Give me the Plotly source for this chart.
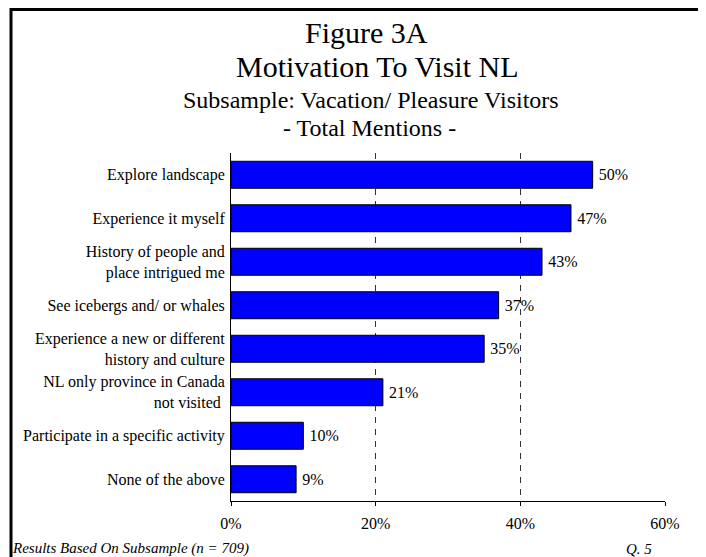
import plotly.graph_objects as go

categories = [
    "Explore landscape",
    "Experience it myself",
    "History of people and<br>place intrigued me",
    "See icebergs and/ or whales",
    "Experience a new or different<br>history and culture",
    "NL only province in Canada<br>not visited ",
    "Participate in a specific activity",
    "None of the above",
]
values = [50, 47, 43, 37, 35, 21, 10, 9]
x_ticks = [0, 20, 40, 60]
x_tick_labels = ["0%", "20%", "40%", "60%"]

# The page body has an 8px margin, so the figure is sized/offset to fit the window
OFF = 8
W, H = 706 - OFF, 557 - OFF
L, R, T, B = 231 - OFF, 41, 153 - OFF, 56
PW, PH = W - L - R, H - T - B


def px(x):
    return (x - OFF - L) / PW


def py(y):
    return 1 - (y - OFF - T) / PH


FONT = "Liberation Serif, Times New Roman, serif"

fig = go.Figure()
fig.add_trace(go.Bar(
    x=values,
    y=categories,
    orientation="h",
    width=0.62,
    marker=dict(color="#0000FF", line=dict(color="#000000", width=1)),
    text=[f"\u2009{v}%" for v in values],
    textposition="outside",
    textfont=dict(family=FONT, size=16, color="#000000"),
    cliponaxis=False,
))

annotations = [
    dict(text="Figure 3A", x=px(366), y=py(32), size=30),
    dict(text="Motivation To Visit NL", x=px(377), y=py(66), size=30),
    dict(text="Subsample: Vacation/ Pleasure Visitors", x=px(371), y=py(100), size=24),
    dict(text="- Total Mentions -", x=px(369), y=py(127.5), size=24),
]
ann = []
for a in annotations:
    ann.append(dict(text=a["text"], x=a["x"], y=a["y"], xref="paper", yref="paper",
                    xanchor="center", yanchor="middle", showarrow=False,
                    font=dict(family=FONT, size=a["size"], color="#000000")))
ann.append(dict(text="<i>Results Based On Subsample (n = 709)</i>", x=px(10), y=py(559),
                xref="paper", yref="paper", xanchor="left", yanchor="bottom", showarrow=False,
                font=dict(family=FONT, size=15, color="#000000")))
ann.append(dict(text="<i>Q. 5</i>", x=px(624), y=py(559),
                xref="paper", yref="paper", xanchor="left", yanchor="bottom", showarrow=False,
                font=dict(family=FONT, size=15, color="#000000")))

shapes = [
    dict(type="line", xref="paper", yref="paper", x0=px(11), x1=px(11), y0=py(8), y1=py(570),
         line=dict(color="#000000", width=3)),
    dict(type="line", xref="paper", yref="paper", x0=px(10), x1=px(720), y0=py(9.5), y1=py(9.5),
         line=dict(color="#000000", width=3)),
]

fig.update_layout(
    width=W, height=H,
    margin=dict(l=L, r=R, t=T, b=B, pad=0),
    paper_bgcolor="#FFFFFF", plot_bgcolor="#FFFFFF",
    showlegend=False,
    annotations=ann,
    shapes=shapes,
)
fig.update_xaxes(
    range=[0, 60], tickvals=x_ticks, ticktext=x_tick_labels,
    showline=True, linecolor="#000000", linewidth=1,
    ticks="outside", ticklen=4, tickcolor="#000000",
    showgrid=True, gridcolor="#333333", griddash="6px,6px", gridwidth=1,
    zeroline=False,
    tickfont=dict(family=FONT, size=16, color="#000000"),
    ticklabelstandoff=4,
)
fig.update_yaxes(
    autorange="reversed",
    showline=True, linecolor="#000000", linewidth=1,
    ticks="", showgrid=False, zeroline=False,
    tickfont=dict(family=FONT, size=16, color="#000000"),
    ticklabelstandoff=2,
)

fig.write_html("out.html")
